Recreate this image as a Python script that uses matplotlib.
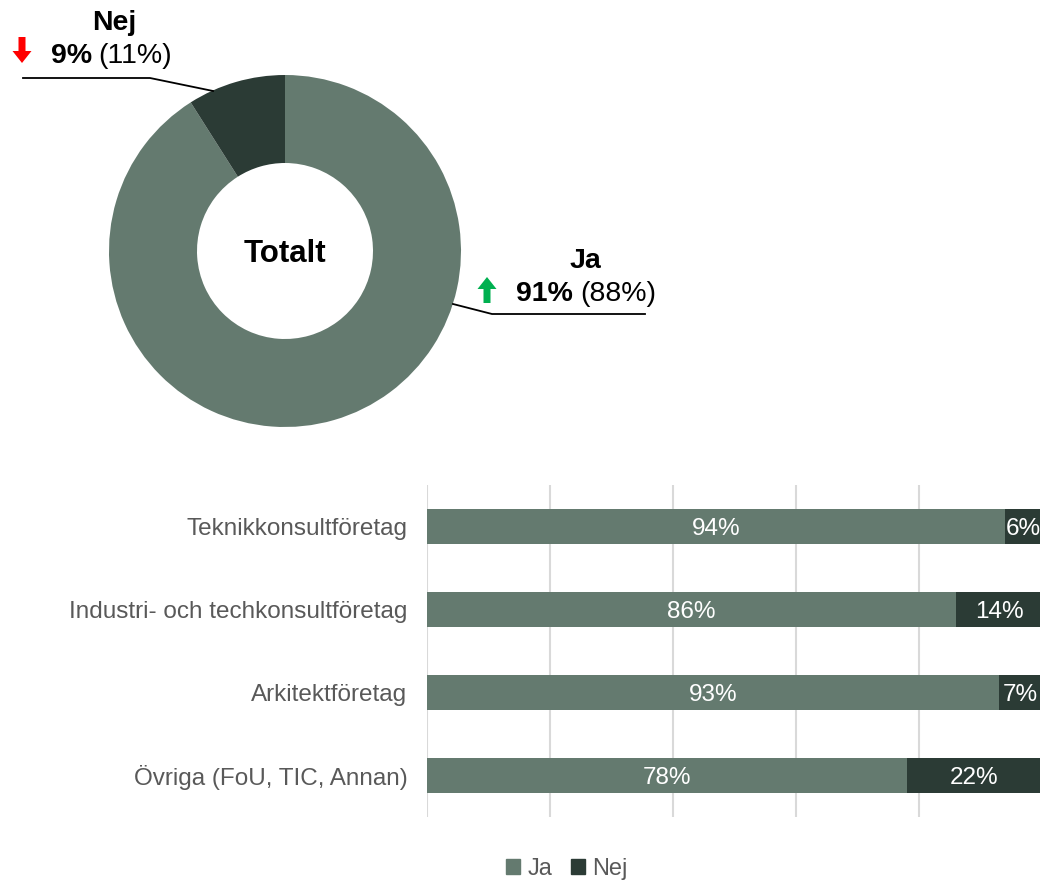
import matplotlib
matplotlib.use("Agg")
import matplotlib.pyplot as plt
from matplotlib.patches import FancyArrow, Patch

plt.rcParams['font.family'] = ['Liberation Sans', 'DejaVu Sans']

# donut: Totalt (previous year in parentheses)
total_labels = ['Ja', 'Nej']
total_values = [91, 9]
total_prev = [88, 11]

# bars per company type
categories = ['Teknikkonsultföretag', 'Industri- och techkonsultföretag',
              'Arkitektföretag', 'Övriga (FoU, TIC, Annan)']
ja_values = [94, 86, 93, 78]
nej_values = [6, 14, 7, 22]

c_ja = '#647a6f'
c_nej = '#2b3b35'
grey = '#595959'

W, H = 1040, 882
fig = plt.figure(figsize=(W / 100, H / 100), dpi=100)


def px_rect(left, top, w, h):
    return [left / W, 1 - (top + h) / H, w / W, h / H]


# ---- donut ----
ax_d = fig.add_axes(px_rect(85, 51, 400, 400))
ax_d.pie(total_values, colors=[c_ja, c_nej], startangle=90, counterclock=False,
         radius=176, wedgeprops=dict(width=88, linewidth=0))
ax_d.set_xlim(-200, 200)
ax_d.set_ylim(-200, 200)
ax_d.set_aspect('equal')
ax_d.axis('off')
ax_d.text(0, 0, 'Totalt', ha='center', va='center_baseline', fontsize=22.5,
          fontweight='bold', color='black')

# overlay in pixel coords for labels / leader lines
ov = fig.add_axes([0, 0, 1, 1], zorder=5)
ov.set_xlim(0, W)
ov.set_ylim(H, 0)
ov.axis('off')
ov.patch.set_alpha(0)

fs = 20.5
# Nej label
ov.plot([23, 150, 213], [78, 78, 91], color='black', lw=1.3)
ov.text(114, 20, total_labels[1], ha='center', va='center_baseline', fontsize=fs,
        fontweight='bold')
ov.text(92, 53, f'{total_values[1]}%', ha='right', va='center_baseline', fontsize=fs,
        fontweight='bold')
ov.text(98, 53, f'({total_prev[1]}%)', ha='left', va='center_baseline', fontsize=fs)
ov.add_patch(FancyArrow(22, 37, 0, 26, width=7, head_width=19, head_length=12,
                        length_includes_head=True, color='#ff0000', lw=0))

# Ja label
ov.plot([453, 492, 645], [304, 314, 314], color='black', lw=1.3)
ov.text(585, 258, total_labels[0], ha='center', va='center_baseline', fontsize=fs,
        fontweight='bold')
ov.text(573, 291, f'{total_values[0]}%', ha='right', va='center_baseline', fontsize=fs,
        fontweight='bold')
ov.text(580, 291, f'({total_prev[0]}%)', ha='left', va='center_baseline', fontsize=fs)
ov.add_patch(FancyArrow(487, 303, 0, -26, width=7, head_width=19, head_length=12,
                        length_includes_head=True, color='#00b050', lw=0))

# ---- bars ----
ax_b = fig.add_axes(px_rect(427, 485, 615, 332))
ypos = list(range(len(categories)))
ja_frac = [v / 100 for v in ja_values]
nej_frac = [v / 100 for v in nej_values]
ax_b.barh(ypos, ja_frac, height=0.41, color=c_ja, zorder=2)
ax_b.barh(ypos, nej_frac, left=ja_frac, height=0.41, color=c_nej, zorder=2)
for y, a, b in zip(ypos, ja_values, nej_values):
    ax_b.text(a / 200, y, f'{a}%', ha='center', va='center_baseline', color='white',
              fontsize=17.5, zorder=3)
    ax_b.text(a / 100 + b / 200, y, f'{b}%', ha='center', va='center_baseline',
              color='white', fontsize=17.5, zorder=3, clip_on=False)
ax_b.set_xlim(0, 1)
ax_b.set_ylim(3.5, -0.5)
ax_b.set_xticks([0, 0.2, 0.4, 0.6, 0.8, 1.0])
ax_b.set_xticklabels([])
ax_b.set_yticks(ypos)
ax_b.set_yticklabels(categories, fontsize=17.5, color=grey)
ax_b.tick_params(length=0, pad=14)
ax_b.grid(axis='x', color='#d9d9d9', lw=1.5, zorder=0)
for s in ax_b.spines.values():
    s.set_visible(False)

handles = [Patch(color=c_ja, label='Ja'), Patch(color=c_nej, label='Nej')]
fig.legend(handles=handles, loc='center', bbox_to_anchor=(567 / W, 1 - 869 / H),
           ncol=2, frameon=False, fontsize=17, labelcolor=grey,
           handlelength=0.6, handleheight=0.6, handletextpad=0.3,
           columnspacing=0.8)

fig.savefig('out.png', dpi=100)
